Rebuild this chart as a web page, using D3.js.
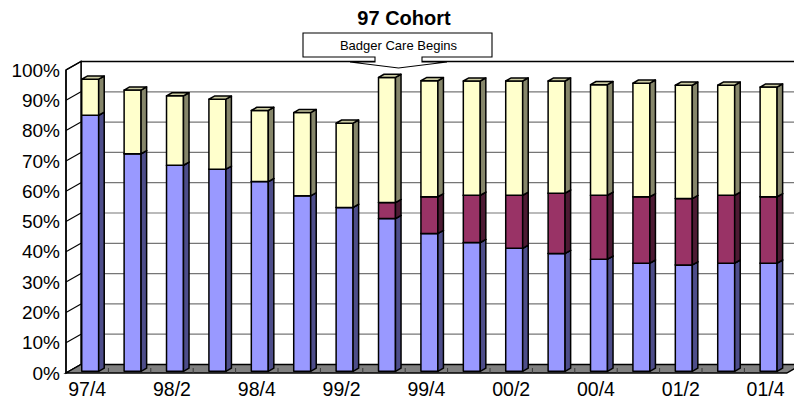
<!DOCTYPE html>
<html>
<head>
<meta charset="utf-8">
<script src="https://cdn.jsdelivr.net/npm/d3@7"></script>
<style>
  body { margin: 0; background: #fff; }
  text { font-family: "Liberation Sans", Arial, sans-serif; fill: #000; }
</style>
</head>
<body>
<div id="chart"></div>
<script>
// quarters, one bar each
var quarters = ["97/4", "98/1", "98/2", "98/3", "98/4", "99/1", "99/2", "99/3", "99/4",
                "00/1", "00/2", "00/3", "00/4", "01/1", "01/2", "01/3", "01/4"];
// labels shown under the floor
var shownLabels = ["97/4", "98/2", "98/4", "99/2", "99/4", "00/2", "00/4", "01/2", "01/4"];
// stacked segments, percent of cohort
var lowerShare  = [84.5, 71.8, 68.0, 66.7, 62.6, 57.9, 54.1, 50.4, 45.5, 42.5, 40.6, 38.9, 37.0, 35.7, 35.1, 35.7, 35.7];
var middleShare = [0, 0, 0, 0, 0, 0, 0, 5.3, 12.1, 15.6, 17.5, 19.9, 21.1, 21.9, 21.9, 22.4, 21.9];
var upperShare  = [11.9, 21.0, 22.9, 23.1, 23.5, 27.5, 27.8, 41.3, 38.3, 37.7, 37.7, 37.0, 36.5, 37.5, 37.4, 36.3, 36.2];
var yTicks = [0, 10, 20, 30, 40, 50, 60, 70, 80, 90, 100];

var svgWidth = 794;
var svgHeight = 404;

// front plane of the plot and the depth offset to the back wall
var plot = { left: 66, right: 786.8, top: 70, bottom: 373 };
var depth = { dx: 15, dy: -8.5 };
// bars sit between these fractions of the depth
var barFront = 0.2, barBack = 0.57;

var svg = d3.select("#chart").append("svg")
    .attr("width", svgWidth)
    .attr("height", svgHeight);

var x = d3.scaleBand()
    .domain(quarters)
    .range([plot.left, plot.right])
    .paddingInner(0.6)
    .paddingOuter(0.3);

var y = d3.scaleLinear()
    .domain([0, 100])
    .range([plot.bottom, plot.top]);

var step = x.step();
// centre of a category slot on the front edge of the floor
function slotCenter(q) {
  return plot.left + step * (quarters.indexOf(q) + 0.5);
}

var backLeft = plot.left + depth.dx;
var backRight = plot.right + depth.dx;

// back wall
svg.append("polygon")
    .attr("points", [[backLeft, y(100) + depth.dy], [backRight, y(100) + depth.dy],
                     [backRight, y(0) + depth.dy], [backLeft, y(0) + depth.dy]].join(" "))
    .attr("fill", "#fff")
    .attr("stroke", "none");

// gridlines on the back wall
svg.selectAll(".grid")
    .data(yTicks.filter(d => d > 0 && d < 100))
    .enter()
    .append("line")
    .attr("class", "grid")
    .attr("x1", backLeft)
    .attr("x2", backRight)
    .attr("y1", d => y(d) + depth.dy)
    .attr("y2", d => y(d) + depth.dy)
    .attr("stroke", "#767676")
    .attr("stroke-width", 1.2);

// top and left edges of the back wall
svg.append("path")
    .attr("d", `M${backLeft},${y(0) + depth.dy} V${y(100) + depth.dy} H${backRight + 5}`)
    .attr("fill", "none")
    .attr("stroke", "#000")
    .attr("stroke-width", 1.4);

// left side wall
svg.append("polygon")
    .attr("points", [[plot.left, y(0)], [plot.left, y(100)],
                     [backLeft, y(100) + depth.dy], [backLeft, y(0) + depth.dy]].join(" "))
    .attr("fill", "#fff")
    .attr("stroke", "#000")
    .attr("stroke-width", 1.4);

// diagonal tick lines on the side wall
svg.selectAll(".sideTick")
    .data(yTicks)
    .enter()
    .append("line")
    .attr("class", "sideTick")
    .attr("x1", plot.left)
    .attr("x2", backLeft)
    .attr("y1", d => y(d))
    .attr("y2", d => y(d) + depth.dy)
    .attr("stroke", "#000")
    .attr("stroke-width", 1.1);

// floor
svg.append("polygon")
    .attr("points", [[plot.left, y(0)], [plot.right, y(0)],
                     [backRight, y(0) + depth.dy], [backLeft, y(0) + depth.dy]].join(" "))
    .attr("fill", "#808080")
    .attr("stroke", "#000")
    .attr("stroke-width", 1.4);

// category dividers on the floor
svg.selectAll(".floorTick")
    .data(quarters.slice(1))
    .enter()
    .append("line")
    .attr("class", "floorTick")
    .attr("x1", (d, i) => plot.left + step * (i + 1))
    .attr("x2", (d, i) => plot.left + step * (i + 1))
    .attr("y1", y(0))
    .attr("y2", y(0) - 5)
    .attr("stroke", "#3a3a3a")
    .attr("stroke-width", 1);

// stacked data
var table = quarters.map(function(q, i) {
  return { quarter: q, lower: lowerShare[i], middle: middleShare[i], upper: upperShare[i] };
});
var keys = ["lower", "middle", "upper"];
var stacked = d3.stack().keys(keys)(table);

var faceColor = { lower: "#9999FF", middle: "#993366", upper: "#FFFFCC" };
var sideColor = { lower: "#4D4D8A", middle: "#4D1A33", upper: "#86866A" };
var topColor  = { lower: "#7A7ACC", middle: "#7A2952", upper: "#CCCCA3" };

function pt(px, v, f) {
  return [px + f * depth.dx, y(v) + f * depth.dy];
}

var bw = x.bandwidth();
var segments = [];
quarters.forEach(function(q, i) {
  stacked.forEach(function(layer) {
    var s = layer[i];
    if (s[1] - s[0] > 0) segments.push({ key: layer.key, quarter: q, y0: s[0], y1: s[1] });
  });
});

var barGroups = svg.selectAll(".seg")
    .data(segments)
    .enter()
    .append("g")
    .attr("class", "seg");

// front face
barGroups.append("polygon")
    .attr("points", function(d) {
      var x0 = x(d.quarter), x1 = x0 + bw;
      return [pt(x0, d.y0, barFront), pt(x1, d.y0, barFront),
              pt(x1, d.y1, barFront), pt(x0, d.y1, barFront)].join(" ");
    })
    .attr("fill", d => faceColor[d.key]);

// right side
barGroups.append("polygon")
    .attr("points", function(d) {
      var x1 = x(d.quarter) + bw;
      return [pt(x1, d.y0, barFront), pt(x1, d.y0, barBack),
              pt(x1, d.y1, barBack), pt(x1, d.y1, barFront)].join(" ");
    })
    .attr("fill", d => sideColor[d.key]);

// top
barGroups.append("polygon")
    .attr("points", function(d) {
      var x0 = x(d.quarter), x1 = x0 + bw;
      return [pt(x0, d.y1, barFront), pt(x1, d.y1, barFront),
              pt(x1, d.y1, barBack), pt(x0, d.y1, barBack)].join(" ");
    })
    .attr("fill", d => topColor[d.key]);

barGroups.selectAll("polygon")
    .attr("stroke", "#000")
    .attr("stroke-width", 1.5)
    .attr("stroke-linejoin", "round");

// front axis line
svg.append("line")
    .attr("x1", plot.left)
    .attr("x2", plot.left)
    .attr("y1", y(0))
    .attr("y2", y(100))
    .attr("stroke", "#000")
    .attr("stroke-width", 1.4);

// y labels
svg.selectAll(".yLabel")
    .data(yTicks)
    .enter()
    .append("text")
    .attr("class", "yLabel")
    .attr("x", 60)
    .attr("y", d => y(d))
    .attr("dy", "0.35em")
    .attr("text-anchor", "end")
    .style("font-size", "19px")
    .text(d => d + "%");

// x labels
svg.selectAll(".xLabel")
    .data(shownLabels)
    .enter()
    .append("text")
    .attr("class", "xLabel")
    .attr("x", d => slotCenter(d))
    .attr("y", 396)
    .attr("text-anchor", "middle")
    .style("font-size", "19.5px")
    .text(d => d);

// title
svg.append("text")
    .attr("x", 404)
    .attr("y", 25)
    .attr("text-anchor", "middle")
    .style("font-size", "20px")
    .style("font-weight", "bold")
    .text("97 Cohort");

// down-arrow callout
var callout = { left: 303, right: 492, top: 33, bottom: 57, neckL: 375, neckR: 422,
                wingL: 350, wingR: 447, wingY: 62, tipX: 398.5, tipY: 68 };
svg.append("path")
    .attr("d", `M${callout.left},${callout.top} H${callout.right} V${callout.bottom} H${callout.neckR}` +
               ` V${callout.wingY} H${callout.wingR} L${callout.tipX},${callout.tipY} L${callout.wingL},${callout.wingY}` +
               ` H${callout.neckL} V${callout.bottom} H${callout.left} Z`)
    .attr("fill", "#fff")
    .attr("stroke", "#000")
    .attr("stroke-width", 1.1);

svg.append("text")
    .attr("x", 398.5)
    .attr("y", 50)
    .attr("text-anchor", "middle")
    .style("font-size", "13px")
    .text("Badger Care Begins");
</script>
</body>
</html>
